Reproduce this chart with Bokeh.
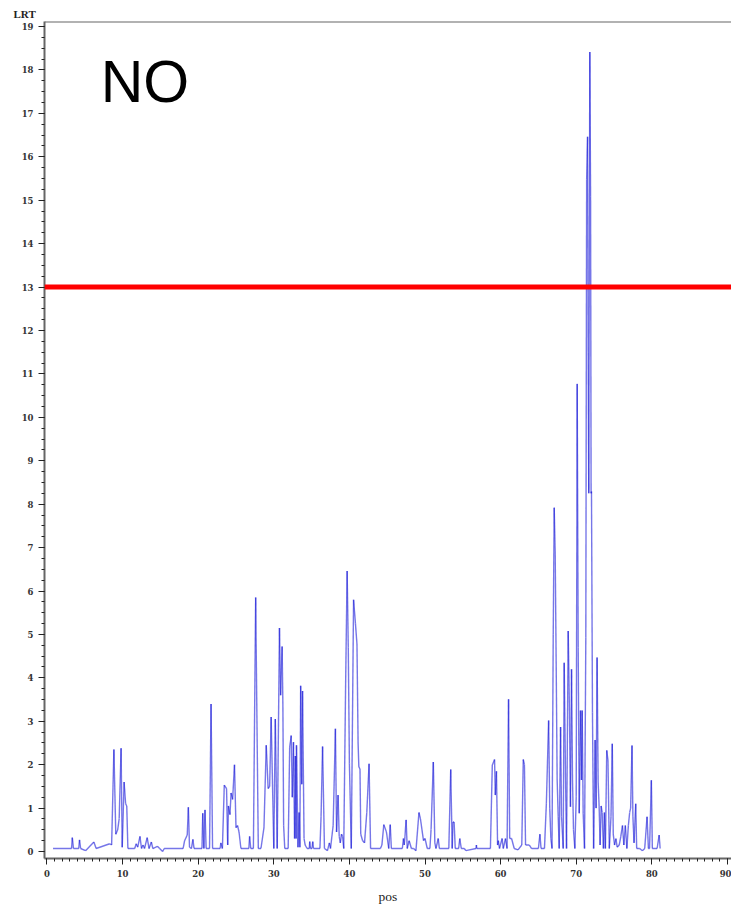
from bokeh.plotting import figure
from bokeh.models import ColumnDataSource, Span, Label, SingleIntervalTicker, Range1d
from bokeh.embed import file_html
from bokeh.resources import INLINE

# ---- data ----
pos_a = [0.8, 3.25, 3.35, 3.5, 4.2, 4.3, 4.45, 5.1, 6.2, 6.5, 8.3, 8.55, 8.85, 9.1, 9.35, 9.55, 9.8, 9.95,
         10.2, 10.4, 10.55, 10.7, 11.6, 11.8, 12.0, 12.3, 12.5, 12.7, 12.9, 13.25, 13.5, 13.8, 14.0, 14.6,
         14.9, 15.3, 15.5]
lrt_a = [0.07, 0.07, 0.32, 0.07, 0.07, 0.27, 0.07, 0.02, 0.22, 0.07, 0.18, 0.15, 2.35, 0.4, 0.5, 0.76, 2.38, 0.1,
         1.6, 1.1, 1.05, 0.07, 0.07, 0.18, 0.1, 0.35, 0.07, 0.15, 0.07, 0.32, 0.07, 0.22, 0.07, 0.12,
         0.07, 0.0, 0.07]

pos_b = [18.0, 18.2, 18.55, 18.7, 18.85, 19.1, 19.3, 19.45, 20.5, 20.6, 20.75, 20.9, 21.05, 21.5, 21.7, 21.9,
         22.9, 23.0, 23.2, 23.45, 23.75, 23.9, 24.0, 24.2, 24.35, 24.55, 24.8, 25.0, 25.2, 25.4, 25.65]
lrt_b = [0.07, 0.25, 0.38, 1.02, 0.1, 0.07, 0.28, 0.07, 0.07, 0.88, 0.07, 0.96, 0.07, 0.07, 3.4, 0.07,
         0.07, 0.2, 0.07, 1.53, 1.45, 0.15, 1.05, 0.85, 1.35, 1.2, 2.0, 0.55, 0.6, 0.45, 0.07]

pos_c = [26.7, 26.8, 26.95, 27.3, 27.6, 27.95, 28.3, 28.7, 29.0, 29.25, 29.45, 29.65, 30.0, 30.2, 30.45,
         30.75, 30.9, 31.1, 31.2, 31.3, 31.45, 31.9, 32.1, 32.3, 32.45, 32.6, 32.75, 32.85, 32.95, 33.0,
         33.2, 33.35, 33.45, 33.55, 33.7, 33.8, 34.0, 34.15, 34.4, 34.7, 34.75, 34.85, 35.05, 35.15, 35.25]
lrt_c = [0.07, 0.35, 0.07, 0.07, 5.85, 0.07, 0.07, 0.55, 2.45, 1.45, 1.5, 3.1, 0.07, 3.05, 0.07,
         5.15, 3.6, 4.72, 3.4, 0.6, 0.07, 0.07, 2.4, 2.67, 1.25, 2.52, 0.3, 2.2, 0.3, 2.45,
         0.1, 0.9, 0.1, 3.82, 1.55, 3.7, 0.3, 0.15, 0.07, 0.07, 0.23, 0.07, 0.07, 0.23, 0.07]

pos_d = [36.1, 36.25, 36.45, 36.7, 37.1, 37.35, 37.5, 37.85, 38.15, 38.3, 38.5, 38.65, 38.8, 38.95, 39.1,
         39.25, 39.5, 39.7, 39.85, 40.0, 40.25, 40.55, 40.8, 41.0, 41.15, 41.25, 41.4, 41.5, 41.75, 42.0,
         42.3, 42.6, 42.8]
lrt_d = [0.07, 0.8, 2.42, 0.07, 0.02, 0.2, 0.07, 0.6, 2.83, 0.45, 1.3, 0.35, 0.2, 0.4, 0.35,
         0.07, 3.86, 6.46, 4.7, 2.02, 0.07, 5.8, 5.25, 4.78, 2.5, 1.95, 1.9, 0.4, 0.25, 0.2,
         0.9, 2.02, 0.07]

pos_e = [44.1, 44.3, 44.55, 44.9, 45.2, 45.4, 45.55, 47.0, 47.15, 47.25, 47.35, 47.5, 47.65, 47.9, 48.2,
         48.5, 48.8, 49.2, 49.4, 49.8, 50.0, 50.3, 50.65, 50.8, 51.1, 51.3, 51.45, 51.75, 51.9, 53.15,
         53.4, 53.6, 53.7, 53.85, 54.0, 54.45, 54.6, 54.8, 55.2, 55.4, 56.75, 56.8, 56.85]
lrt_e = [0.07, 0.15, 0.62, 0.45, 0.07, 0.62, 0.07, 0.07, 0.3, 0.15, 0.35, 0.73, 0.07, 0.25, 0.07,
         0.07, 0.02, 0.9, 0.75, 0.25, 0.3, 0.07, 0.07, 0.5, 2.06, 0.2, 0.07, 0.3, 0.07, 0.07,
         1.89, 0.07, 0.68, 0.68, 0.07, 0.07, 0.3, 0.07, 0.07, 0.02, 0.07, 0.15, 0.07]

pos_f = [58.65, 58.9, 59.2, 59.3, 59.45, 59.6, 59.7, 59.85, 60.2, 60.35, 60.65, 60.85, 61.05, 61.2, 61.45,
         61.8, 62.3, 62.8, 63.0, 63.15, 63.3, 63.8, 64.1, 65.0, 65.2, 65.35, 65.8, 66.05, 66.35, 66.5,
         66.65, 66.8]
lrt_f = [0.07, 1.99, 2.12, 1.3, 1.85, 0.15, 0.25, 0.07, 0.3, 0.07, 0.3, 0.07, 3.51, 0.3, 0.3,
         0.07, 0.04, 0.15, 2.12, 2.0, 0.15, 0.15, 0.07, 0.07, 0.4, 0.07, 0.07, 1.1, 3.02, 1.0,
         0.3, 0.07]

pos_g = [66.96, 67.09, 67.22, 67.35, 67.48, 67.62, 67.75, 67.93, 68.06, 68.28, 68.41, 68.59, 68.72, 68.94,
         69.11, 69.24, 69.38, 69.51, 69.64, 69.82, 70.0, 70.13, 70.26, 70.4, 70.57, 70.7, 70.79, 70.92,
         71.1, 71.27, 71.38, 71.5, 71.58, 71.66, 71.8, 71.9, 71.97, 72.02, 72.15, 72.3, 72.5, 72.63,
         72.76, 72.9, 73.03, 73.16, 73.3, 73.43, 73.6, 73.73, 73.86, 74.04, 74.2, 74.38, 74.6, 74.77,
         74.9, 75.07, 75.25, 75.42, 75.69, 75.9, 76.12, 76.3, 76.5, 76.7, 76.9, 77.07, 77.2, 77.38,
         77.5, 77.65, 77.87, 78.0, 78.4, 78.75, 79.06, 79.37, 79.55, 79.7, 79.94, 80.07, 80.7, 80.97, 81.1]
lrt_g = [5.0, 7.92, 6.85, 4.32, 1.65, 0.8, 0.07, 2.87, 0.8, 0.07, 4.35, 1.65, 0.07, 5.08,
         3.17, 1.03, 4.2, 1.65, 0.5, 0.07, 1.26, 10.77, 4.7, 0.88, 3.25, 1.65, 3.25, 0.88,
         0.07, 4.93, 15.47, 16.46, 11.5, 8.25, 18.41, 15.09, 8.25, 8.29, 3.2, 0.07, 2.57, 1.0,
         4.47, 1.6, 1.05, 0.15, 1.05, 0.9, 0.07, 0.9, 0.07, 2.33, 2.1, 0.07, 0.8, 2.48,
         0.4, 0.15, 0.3, 0.1, 0.15, 0.35, 0.6, 0.15, 0.6, 0.07, 0.6, 0.9, 1.0, 2.44,
         0.8, 0.2, 1.1, 0.07, 0.07, 0.02, 0.07, 0.8, 0.07, 0.07, 1.64, 0.07, 0.07, 0.38, 0.07]

threshold = 13
annotation_text = "NO"
x_title = "pos"
y_title = "LRT"

pos = pos_a + pos_b + pos_c + pos_d + pos_e + pos_f + pos_g
lrt = lrt_a + lrt_b + lrt_c + lrt_d + lrt_e + lrt_f + lrt_g
n = min(len(pos), len(lrt))
pos, lrt = pos[:n], lrt[:n]

src = ColumnDataSource(dict(x0=pos[:-1], y0=lrt[:-1], x1=pos[1:], y1=lrt[1:]))

p = figure(width=731, height=906, output_backend="svg", toolbar_location=None,
           x_range=Range1d(-0.33, 90.54), y_range=Range1d(-0.16, 19.115),
           min_border_left=44, min_border_right=0, min_border_top=21, min_border_bottom=44)
p.grid.visible = False
p.outline_line_color = None
p.background_fill_color = "white"
p.border_fill_color = "white"

p.title.text = y_title
p.title.align = "left"
p.title.offset = -31
p.title.standoff = 3
p.title.text_font = "Liberation Serif"
p.title.text_font_size = "11px"
p.title.text_font_style = "bold"
p.title.text_color = "#222222"

p.xaxis.ticker = SingleIntervalTicker(interval=10, num_minor_ticks=10)
p.yaxis.ticker = SingleIntervalTicker(interval=1, num_minor_ticks=4)
p.xaxis.axis_label = x_title
p.xaxis.axis_label_text_font = "Liberation Serif"
p.xaxis.axis_label_text_font_size = "13.5px"
p.xaxis.axis_label_text_font_style = "normal"
p.xaxis.axis_label_text_color = "#222222"
p.xaxis.axis_label_standoff = 9
for ax in (p.xaxis, p.yaxis):
    ax.axis_line_color = "#666666"
    ax.axis_line_width = 2
    ax.major_tick_line_color = "#222222"
    ax.minor_tick_line_color = "#222222"
    ax.major_tick_out = 6
    ax.major_tick_in = 0
    ax.minor_tick_out = 3
    ax.minor_tick_in = 0
    ax.major_label_text_font = "DejaVu Serif"
    ax.major_label_text_font_size = "8.5px"
    ax.major_label_text_font_style = "bold"
    ax.major_label_text_color = "#333333"
    ax.major_label_standoff = 5

p.segment(x0="x0", y0="y0", x1="x1", y1="y1", source=src,
          line_color="#1a1ad8", line_alpha=0.6, line_width=1.4)

p.add_layout(Span(location=p.y_range.end, dimension="width", line_color="#666666", line_width=2))
p.add_layout(Span(location=threshold, dimension="width", line_color="#ff0000", line_width=5))
p.add_layout(Label(x=7.1, y=17.72, text=annotation_text, text_font="Liberation Sans",
                   text_font_size="59px", text_color="black", text_baseline="alphabetic"))

open("out.html", "w").write(file_html(p, INLINE))
